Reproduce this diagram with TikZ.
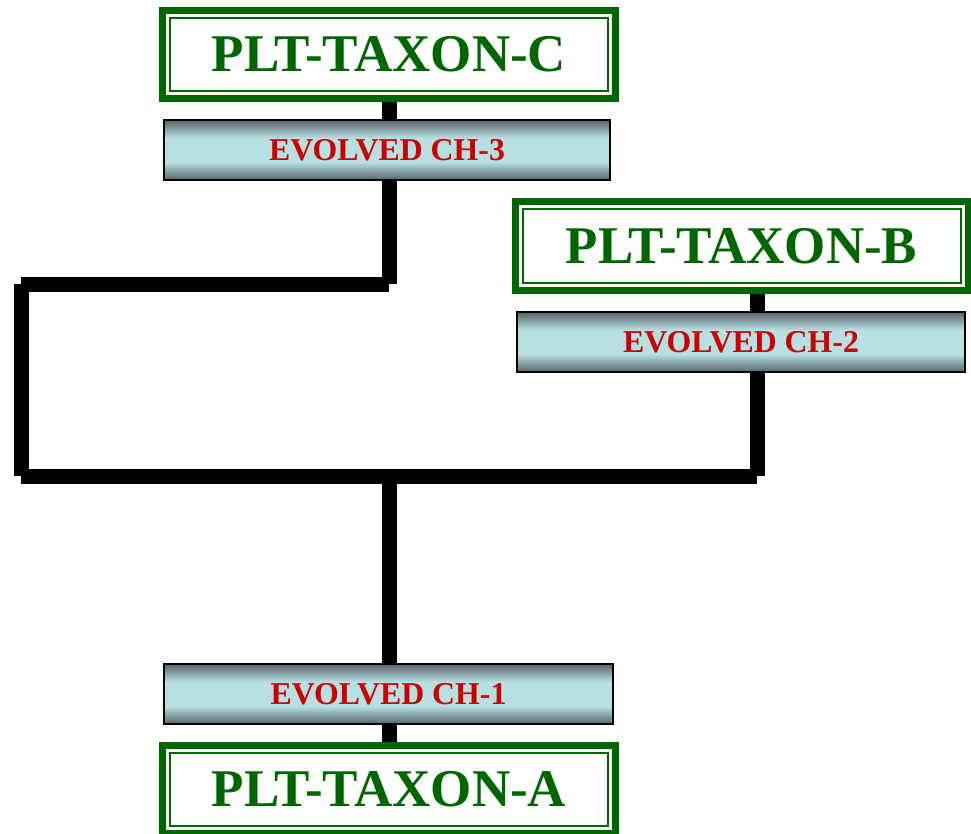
\documentclass[tikz,border=0pt]{standalone}
\usepackage{fontspec}
\setmainfont{Liberation Serif}
\definecolor{taxgreen}{RGB}{0,102,0}
\definecolor{chred}{RGB}{204,0,0}
\definecolor{bardark}{RGB}{84,100,102}
\definecolor{barlight}{RGB}{184,224,227}
\pgfdeclareverticalshading{barshade}{100bp}{color(0bp)=(bardark); color(25bp)=(bardark); color(40bp)=(barlight); color(60bp)=(barlight); color(75bp)=(bardark); color(100bp)=(bardark)}
\tikzset{
  taxon/.style={draw=taxgreen, line width=7pt, fill=white, inner sep=0pt,
    minimum width=453pt, minimum height=88pt, text=taxgreen,
    font=\fontsize{53}{53}\selectfont\bfseries},
  innerframe/.style={draw=taxgreen, line width=2pt},
  chbar/.style={draw=black, line width=2pt, shading=barshade, inner sep=0pt,
    minimum height=60pt, text=chred, font=\fontsize{31.8}{31.8}\selectfont\bfseries},
  branch/.style={draw=black, line width=15pt, line cap=butt}
}
\begin{document}
\begin{tikzpicture}[x=1pt,y=-1pt]
\useasboundingbox (0,0) rectangle (971,834);
% taxon boxes
\node[taxon] (C) at (389,54.5) {PLT-TAXON-C};
\node[taxon] (B) at (741.5,246) {PLT-TAXON-B};
\node[taxon] (A) at (389,789.5) {PLT-TAXON-A};
\foreach \n in {A,B,C}{
  \draw[innerframe] ([shift={(11pt,-11pt)}]\n.north west) rectangle ([shift={(-11pt,11pt)}]\n.south east);
}
% character bars
\node[chbar, minimum width=446pt] (E3) at (387,150) {EVOLVED CH-3};
\node[chbar, minimum width=448pt] (E2) at (741,342) {EVOLVED CH-2};
\node[chbar, minimum width=449pt] (E1) at (388.5,694) {EVOLVED CH-1};
% junction coordinates
\coordinate (cC) at (389,284);
\coordinate (cL1) at (21,284);
\coordinate (cL2) at (21,476);
\coordinate (root) at (389,476);
\coordinate (cB) at (757,476);
\coordinate (xB) at (757,0);
\coordinate (xA) at (389,0);
% branches
\draw[branch] (C.south -| xA) -- (E3.north -| xA);
\draw[branch] (E3.south -| xA) -- (cC);
\draw[branch] (cC) -- (cL1);
\draw[branch] (cL1) -- (cL2);
\draw[branch] (cL2) -- (root);
\draw[branch] (cB) -- (root);
\draw[branch] (B.south -| xB) -- (E2.north -| xB);
\draw[branch] (E2.south -| xB) -- (cB);
\draw[branch] (root) -- (E1.north -| xA);
\draw[branch] (E1.south -| xA) -- (A.north -| xA);
\end{tikzpicture}
\end{document}
